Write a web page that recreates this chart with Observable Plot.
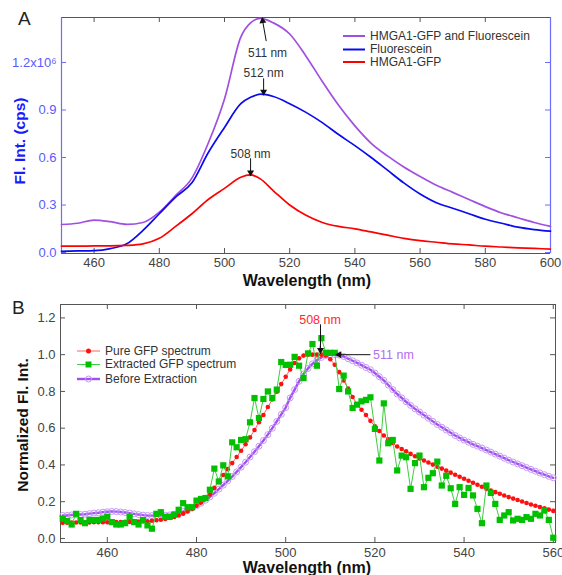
<!DOCTYPE html>
<html><head><meta charset="utf-8">
<script src="https://cdn.jsdelivr.net/npm/d3@7"></script>
<script src="https://cdn.jsdelivr.net/npm/@observablehq/plot@0.6"></script>
<style>
body{margin:0;background:#fff;font-family:"Liberation Sans",Arial,sans-serif;}
#wrap{position:relative;width:562px;height:575px;overflow:hidden}
#wrap svg{display:block}
.abs{position:absolute;white-space:nowrap;line-height:1}
.panel{font-size:19px;color:#222}
.xt{font-size:16px;font-weight:bold;color:#111;transform:translate(-50%,-50%)}
.yt{font-size:15.5px;font-weight:bold;transform:translate(-50%,-50%) rotate(-90deg)}
</style></head><body><div id="wrap"></div>
<script>
// ---------- Panel A data (Fl. Int., units of 1e6 cps) ----------
const wlA = [450,455,460,465,470,475,480,485,490,495,500,505,508,511,515,520,525,530,535,540,545,550,555,560,565,570,575,580,585,590,595,600];
const purpleA = [0.177,0.185,0.205,0.195,0.178,0.19,0.255,0.36,0.47,0.69,0.97,1.36,1.45,1.478,1.45,1.38,1.24,1.08,0.93,0.80,0.69,0.61,0.54,0.48,0.425,0.38,0.335,0.29,0.25,0.22,0.19,0.165];
const blueA = [0.008,0.01,0.012,0.025,0.055,0.14,0.245,0.35,0.44,0.63,0.79,0.94,0.98,1.0,0.985,0.94,0.885,0.82,0.745,0.675,0.6,0.52,0.44,0.37,0.315,0.28,0.245,0.21,0.185,0.16,0.145,0.135];
const redA = [0.04,0.04,0.042,0.042,0.045,0.055,0.09,0.165,0.245,0.335,0.405,0.475,0.49,0.465,0.39,0.30,0.235,0.19,0.165,0.15,0.13,0.11,0.09,0.075,0.065,0.055,0.048,0.04,0.035,0.03,0.026,0.022];
const seriesNamesA = ["HMGA1-GFP and Fluorescein","Fluorescein","HMGA1-GFP"];
const xTicksA = [460,480,500,520,540,560,580,600];
const yTicksA = [0,0.3,0.6,0.9,1.2];
const annotA = [
  {text:"511 nm", tx:513.2, ty:1.26, x1:512.8, y1:1.335, x2:511.7, y2:1.462},
  {text:"512 nm", tx:512,   ty:1.135, x1:512, y1:1.10, x2:512, y2:1.015},
  {text:"508 nm", tx:508,   ty:0.62, x1:508, y1:0.595, x2:508, y2:0.505}
];

// ---------- Panel B data (normalized) ----------
const wlB = d3.range(450, 561);
const pureGFP = [0.085,0.086,0.086,0.087,0.087,0.087,0.087,0.088,0.088,0.088,0.088,0.089,0.089,0.089,0.09,0.09,0.091,0.092,0.093,0.094,
0.096,0.099,0.102,0.106,0.111,0.117,0.125,0.135,0.147,0.161,0.178,0.195,0.215,0.24,0.275,0.31,0.345,0.377,0.41,0.443,
0.477,0.513,0.55,0.59,0.632,0.672,0.715,0.757,0.798,0.84,0.88,0.92,0.955,0.98,0.995,1.0,1.0,1.0,1.0,0.995,
0.975,0.945,0.905,0.86,0.815,0.77,0.73,0.70,0.672,0.64,0.61,0.585,0.56,0.54,0.52,0.50,0.487,0.474,0.46,0.447,
0.435,0.424,0.413,0.402,0.39,0.38,0.369,0.358,0.347,0.336,0.325,0.314,0.303,0.292,0.281,0.27,0.261,0.252,0.243,0.234,
0.225,0.217,0.209,0.201,0.193,0.185,0.178,0.171,0.164,0.157,0.15];
const extractedGFP = [0.107,0.095,0.076,0.134,0.10,0.083,0.101,0.10,0.101,0.108,0.118,0.089,0.076,0.076,0.083,0.116,0.089,0.076,0.10,0.071,
0.053,0.134,0.143,0.118,0.118,0.13,0.156,0.192,0.17,0.17,0.206,0.215,0.22,0.265,0.38,0.31,0.398,0.338,0.523,0.496,
0.536,0.54,0.632,0.764,0.655,0.759,0.80,0.764,0.81,0.96,0.944,0.945,0.988,0.94,0.873,1.007,1.058,0.94,1.09,1.01,
1.01,1.01,0.813,0.886,0.80,0.71,0.728,0.746,0.754,0.768,0.596,0.424,0.735,0.518,0.536,0.37,0.451,0.442,0.27,0.41,
0.451,0.279,0.330,0.355,0.418,0.288,0.341,0.273,0.188,0.279,0.237,0.275,0.234,0.161,0.083,0.288,0.248,0.188,0.101,0.125,
0.143,0.098,0.107,0.101,0.116,0.107,0.134,0.125,0.152,0.101,0.004];
const beforeExtraction = [0.125,0.125,0.128,0.13,0.13,0.132,0.135,0.138,0.14,0.143,0.145,0.147,0.146,0.144,0.141,0.138,0.134,0.13,0.127,0.125,
0.124,0.124,0.125,0.126,0.128,0.132,0.138,0.146,0.155,0.166,0.178,0.192,0.208,0.226,0.246,0.268,0.29,0.313,0.337,0.362,
0.388,0.415,0.443,0.472,0.502,0.533,0.565,0.6,0.637,0.675,0.712,0.765,0.81,0.855,0.895,0.925,0.95,0.97,0.985,0.995,
1.0,1.0,0.998,0.99,0.978,0.967,0.955,0.943,0.93,0.918,0.9,0.88,0.86,0.835,0.81,0.786,0.765,0.744,0.724,0.705,
0.688,0.671,0.654,0.637,0.62,0.605,0.59,0.575,0.56,0.547,0.535,0.524,0.512,0.502,0.492,0.481,0.47,0.459,0.448,0.437,
0.426,0.416,0.406,0.396,0.386,0.376,0.366,0.356,0.347,0.338,0.33];
const seriesNamesB = ["Pure GFP spectrum","Extracted GFP spectrum","Before Extraction"];
const xTicksB = [460,480,500,520,540,560];
const yTicksB = [0,0.2,0.4,0.6,0.8,1.0,1.2];
const annotB508 = [{text:"508 nm", tx:507.7, ty:1.19, x1:507.8, y1:1.165, x2:507.8, y2:1.025}];
const annotB511 = [{text:"511 nm", tx:519.6, ty:1.0, x1:519.0, y1:1.0, x2:512.0, y2:1.0}];

// ---------- helpers ----------
const FONT = "Liberation Sans, Arial, sans-serif";
const cPurple = "#a04fe0", cBlue = "#0a0af0", cRed = "#ff0000";
const rowsOf = (xs, ys) => xs.map((x,i)=>({x, y: ys[i]}));
function arrowMarks(ann){
  return [
    Plot.link(ann, {x1:"x1", y1:"y1", x2:"x2", y2:"y2", stroke:"#111", strokeWidth:1}),
    Plot.dot(ann, {x:"x2", y:"y2", symbol:"triangle", r:2.6, fill:"#111", stroke:"none",
      rotate: d => (Math.abs(d.y2-d.y1) > 0.001 && Math.abs(d.x2-d.x1) < 2) ? (d.y2 < d.y1 ? 180 : -8) : (d.x2 < d.x1 ? -90 : 90)})
  ];
}

const wrap = document.getElementById("wrap");

// ---------- Panel A ----------
const hA = 280, mtA = 17, mbA = 27;
const fhA = hA - mtA - mbA;
const plotA = Plot.plot({
  width: 562, height: hA,
  marginLeft: 61, marginRight: 12, marginTop: mtA, marginBottom: mbA,
  style: {fontFamily: FONT, fontSize: "13px", background: "white"},
  x: {domain: [450, 600]},
  y: {domain: [-0.006, 1.484]},
  marks: [
    Plot.axisX({ticks: xTicksA, anchor: "bottom", tickSize: 0, tickPadding: 4, color: "#444", label: null}),
    Plot.axisY({ticks: yTicksA, anchor: "left", tickSize: 0, tickPadding: 5, color: "#5a5aff", label: null,
      tickFormat: d => d === 1.2 ? "1.2x10⁶" : d.toFixed(1)}),
    Plot.ruleX(xTicksA, {x: d => d, insetBottom: fhA - 5, stroke: "#555"}),
    Plot.ruleX(xTicksA, {x: d => d, insetTop: fhA - 5, stroke: "#555"}),
    Plot.ruleY(yTicksA, {y: d => d, insetRight: 562 - 73 - 5, stroke: "#6b6bff"}),
    Plot.ruleY(yTicksA, {y: d => d, insetLeft: 562 - 73 - 5, stroke: "#6b6bff"}),
    Plot.ruleY([-0.006, 1.484], {stroke: "#555"}),
    Plot.ruleX([450, 600], {stroke: "#6b6bff", strokeWidth: 1.2}),
    Plot.line(rowsOf(wlA, purpleA), {x: "x", y: "y", stroke: cPurple, strokeWidth: 1.7, curve: "monotone-x"}),
    Plot.line(rowsOf(wlA, blueA), {x: "x", y: "y", stroke: cBlue, strokeWidth: 1.7, curve: "monotone-x"}),
    Plot.line(rowsOf(wlA, redA), {x: "x", y: "y", stroke: cRed, strokeWidth: 1.7, curve: "monotone-x"}),
    Plot.text(annotA, {x: "tx", y: "ty", text: "text", fill: "#333", fontSize: 12}),
    ...arrowMarks(annotA)
  ]
});
wrap.appendChild(plotA);

// ---------- Panel B ----------
const hB = 295, mtB = 24, mbB = 33;
const fhB = hB - mtB - mbB;
const cRedB = "#ff1010", cGreenB = "#00c000", cPurpleB = "#a050f0";
const plotB = Plot.plot({
  width: 562, height: hB,
  marginLeft: 60, marginRight: 7, marginTop: mtB, marginBottom: mbB,
  style: {fontFamily: FONT, fontSize: "13px", background: "white"},
  x: {domain: [449.5, 560.5]},
  y: {domain: [-0.022, 1.273]},
  marks: [
    Plot.axisX({ticks: xTicksB, anchor: "bottom", tickSize: 0, tickPadding: 5, color: "#444", label: null}),
    Plot.axisY({ticks: yTicksB, anchor: "left", tickSize: 0, tickPadding: 5, color: "#444", label: null,
      tickFormat: d => d.toFixed(1)}),
    Plot.ruleX(xTicksB, {x: d => d, insetBottom: fhB - 5, stroke: "#555"}),
    Plot.ruleX(xTicksB, {x: d => d, insetTop: fhB - 5, stroke: "#555"}),
    Plot.ruleY(yTicksB, {y: d => d, insetRight: 562 - 67 - 5, stroke: "#555"}),
    Plot.ruleY(yTicksB, {y: d => d, insetLeft: 562 - 67 - 5, stroke: "#555"}),
    Plot.frame({stroke: "#555"}),
    Plot.line(rowsOf(wlB, beforeExtraction), {x: "x", y: "y", stroke: cPurpleB, strokeWidth: 2.4}),
    Plot.dot(rowsOf(wlB, beforeExtraction), {x: "x", y: "y", r: 3, stroke: "#c49af5", strokeWidth: 1, fill: "none"}),
    Plot.line(rowsOf(wlB, pureGFP), {x: "x", y: "y", stroke: "#ff6060", strokeWidth: 1}),
    Plot.dot(rowsOf(wlB, pureGFP), {x: "x", y: "y", r: 2.3, fill: cRedB, stroke: "none"}),
    Plot.line(rowsOf(wlB, extractedGFP), {x: "x", y: "y", stroke: "#3fcc3f", strokeWidth: 1}),
    Plot.dot(rowsOf(wlB, extractedGFP), {x: "x", y: "y", symbol: "square", r: 3.5, fill: cGreenB, stroke: "none"}),
    Plot.text(annotB508, {x: "tx", y: "ty", text: "text", fill: "#ff2a2a", textAnchor: "middle", fontSize: 12.5}),
    Plot.text(annotB511, {x: "tx", y: "ty", text: "text", fill: "#b46ef0", textAnchor: "start", fontSize: 12.5}),
    ...arrowMarks(annotB508),
    ...arrowMarks(annotB511)
  ]
});
wrap.appendChild(plotB);

// ---------- overlay texts & legends ----------
function addDiv(cls, text, css){
  const d = document.createElement("div");
  d.className = "abs " + cls; d.textContent = text;
  Object.assign(d.style, css); wrap.appendChild(d); return d;
}
addDiv("panel", "A", {left: "18px", top: "9px"});
addDiv("panel", "B", {left: "12px", top: "298px"});
addDiv("xt", "Wavelength (nm)", {left: "307px", top: "281px"});
addDiv("xt", "Wavelength (nm)", {left: "307px", top: "568px"});
addDiv("yt", "Fl. Int. (cps)", {left: "20px", top: "141px", color: "#1a1aff"});
addDiv("yt", "Normalized Fl. Int.", {left: "23px", top: "425px", color: "#111"});

const ns = "http://www.w3.org/2000/svg";
const ov = document.createElementNS(ns, "svg");
ov.setAttribute("width", 562); ov.setAttribute("height", 575);
ov.style.position = "absolute"; ov.style.left = "0"; ov.style.top = "0";
wrap.appendChild(ov);
function el(tag, attrs){ const e = document.createElementNS(ns, tag); for (const k in attrs) e.setAttribute(k, attrs[k]); ov.appendChild(e); return e; }
function txt(x, y, s, fill){ const t = el("text", {x, y, fill, "font-size": 12, "font-family": FONT, "dominant-baseline": "middle"}); t.textContent = s; }
const legA = [[cPurple, 36], [cBlue, 49.5], [cRed, 62]];
legA.forEach(([c, y], i) => { el("line", {x1: 343, x2: 365, y1: y, y2: y, stroke: c, "stroke-width": 2}); txt(370, y + 0.5, seriesNamesA[i], "#333"); });
const legB = [351, 364.5, 379];
el("line", {x1: 77, x2: 100, y1: legB[0], y2: legB[0], stroke: "#ff6060", "stroke-width": 1});
el("circle", {cx: 88.5, cy: legB[0], r: 2.5, fill: cRedB});
txt(105, legB[0] + 0.5, seriesNamesB[0], "#333");
el("line", {x1: 77, x2: 100, y1: legB[1], y2: legB[1], stroke: "#3fcc3f", "stroke-width": 1});
el("rect", {x: 85.5, y: legB[1] - 3, width: 6, height: 6, fill: cGreenB});
txt(105, legB[1] + 0.5, seriesNamesB[1], "#333");
el("line", {x1: 77, x2: 100, y1: legB[2], y2: legB[2], stroke: cPurpleB, "stroke-width": 2.4});
el("circle", {cx: 88.5, cy: legB[2], r: 3, fill: "none", stroke: "#c49af5", "stroke-width": 1});
txt(105, legB[2] + 0.5, seriesNamesB[2], "#333");
</script></body></html>
